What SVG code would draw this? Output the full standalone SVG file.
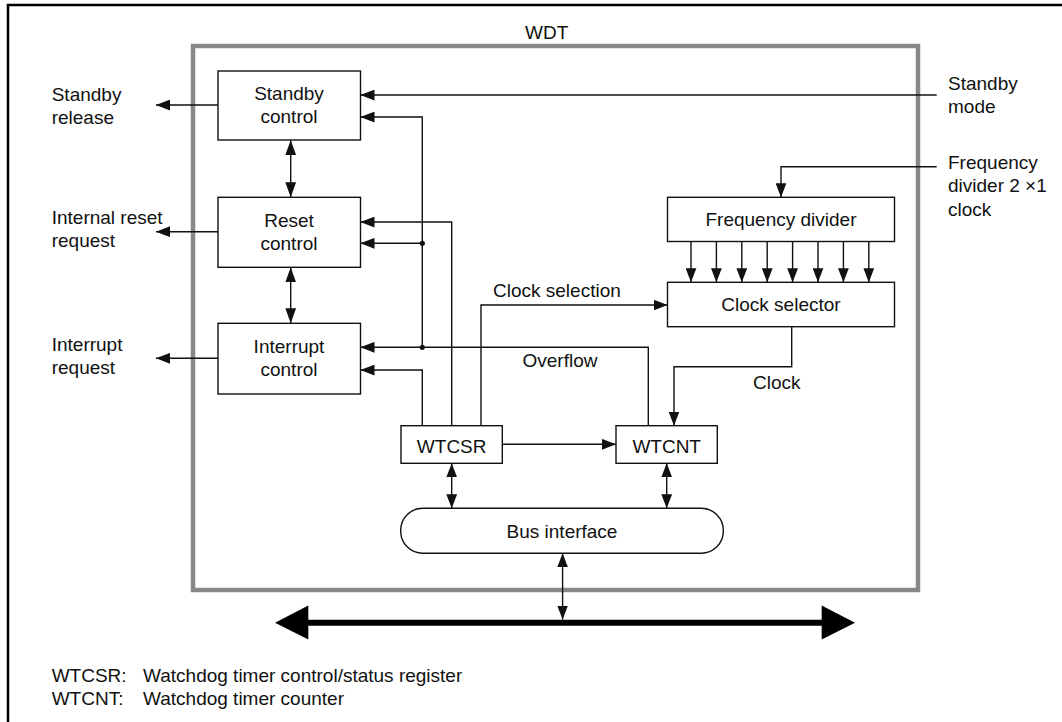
<svg xmlns="http://www.w3.org/2000/svg" width="1062" height="722" viewBox="0 0 1062 722">
<style>
text{font-family:"Liberation Sans",Arial,sans-serif;font-size:19px;fill:#111}
.c{text-anchor:middle}
.box{fill:#fff;stroke:#111;stroke-width:1.4}
.ln{fill:none;stroke:#111;stroke-width:1.4}
</style>
<defs>
<marker id="a" markerUnits="userSpaceOnUse" markerWidth="14" markerHeight="11" refX="13" refY="5" orient="auto-start-reverse" viewBox="0 0 13 10">
<path d="M0,0 L13,5 L0,10 z" fill="#111"/>
</marker>
<marker id="b" markerUnits="userSpaceOnUse" markerWidth="15" markerHeight="11" refX="14" refY="5" orient="auto-start-reverse" viewBox="0 0 14 10">
<path d="M0,0 L14,5 L0,10 z" fill="#111"/>
</marker>
</defs>
<rect x="0" y="0" width="1062" height="722" fill="#fff"/>
<rect x="8" y="5" width="1100" height="800" fill="none" stroke="#000" stroke-width="2.5"/>
<g id="wdt">
<rect x="193" y="46" width="725" height="544" fill="none" stroke="#888" stroke-width="4.5"/>
<text x="525" y="39">WDT</text>
</g>
<g id="standby-control">
<rect class="box" x="218" y="71" width="142.5" height="69"/>
<text class="c" x="289" y="100">Standby</text>
<text class="c" x="289" y="123">control</text>
</g>
<g id="reset-control">
<rect class="box" x="218" y="197.3" width="142.5" height="70"/>
<text class="c" x="289" y="226.8">Reset</text>
<text class="c" x="289" y="249.8">control</text>
</g>
<g id="interrupt-control">
<rect class="box" x="218" y="323.3" width="142.5" height="70.7"/>
<text class="c" x="289" y="353">Interrupt</text>
<text class="c" x="289" y="376">control</text>
</g>
<g id="frequency-divider">
<rect class="box" x="667.5" y="197.3" width="227" height="44.2"/>
<text class="c" x="781" y="226">Frequency divider</text>
</g>
<g id="clock-selector">
<rect class="box" x="667.5" y="282.3" width="227" height="44.4"/>
<text class="c" x="781" y="311">Clock selector</text>
</g>
<g id="wtcsr">
<rect class="box" x="401" y="425.7" width="101.3" height="37.6"/>
<text class="c" x="451.7" y="453">WTCSR</text>
</g>
<g id="wtcnt">
<rect class="box" x="616" y="425.7" width="101.3" height="37.6"/>
<text class="c" x="666.7" y="453">WTCNT</text>
</g>
<g id="bus-interface">
<rect class="box" x="400.7" y="508.3" width="322.6" height="45" rx="22" ry="22"/>
<text class="c" x="562" y="537.7">Bus interface</text>
</g>
<g id="labels">
<text x="51.7" y="100.5">Standby</text>
<text x="51.7" y="123.5">release</text>
<text x="51.7" y="224">Internal reset</text>
<text x="51.7" y="247">request</text>
<text x="51.7" y="350.7">Interrupt</text>
<text x="51.7" y="373.7">request</text>
<text x="948" y="90">Standby</text>
<text x="948" y="113">mode</text>
<text x="948" y="169">Frequency</text>
<text x="948" y="192">divider 2 ×1</text>
<text x="948" y="215.5">clock</text>
<text x="493" y="296.7">Clock selection</text>
<text x="522.5" y="366.7">Overflow</text>
<text x="753" y="389">Clock</text>
<text x="51.7" y="681.7">WTCSR:</text>
<text x="143" y="681.7">Watchdog timer control/status register</text>
<text x="51.7" y="705">WTCNT:</text>
<text x="143" y="705">Watchdog timer counter</text>
</g>
<g id="connectors">
<line class="ln" x1="218" y1="105" x2="156" y2="105" marker-end="url(#a)"/>
<line class="ln" x1="218" y1="231.7" x2="156" y2="231.7" marker-end="url(#a)"/>
<line class="ln" x1="218" y1="358.3" x2="156" y2="358.3" marker-end="url(#a)"/>
<line class="ln" x1="290.7" y1="140" x2="290.7" y2="197.3" marker-start="url(#b)" marker-end="url(#b)"/>
<line class="ln" x1="290.7" y1="267.3" x2="290.7" y2="323.3" marker-start="url(#b)" marker-end="url(#b)"/>
<line class="ln" x1="936.7" y1="95" x2="360.5" y2="95" marker-end="url(#a)"/>
<polyline class="ln" points="422.3,347.3 422.3,117 360.5,117" marker-end="url(#a)"/>
<line class="ln" x1="422.3" y1="243.3" x2="360.5" y2="243.3" marker-end="url(#a)"/>
<polyline class="ln" points="648.3,425.7 648.3,347.3 360.5,347.3" marker-end="url(#a)"/>
<circle cx="422.3" cy="243.3" r="2.6" fill="#111"/>
<circle cx="422.3" cy="347.3" r="2.6" fill="#111"/>
<polyline class="ln" points="422.3,425.7 422.3,370 360.5,370" marker-end="url(#a)"/>
<polyline class="ln" points="451.7,425.7 451.7,222 360.5,222" marker-end="url(#a)"/>
<polyline class="ln" points="481,425.7 481,305 667.5,305" marker-end="url(#a)"/>
<polyline class="ln" points="936.7,166.7 781,166.7 781,197.3" marker-end="url(#a)"/>
<line class="ln" x1="691" y1="241.5" x2="691" y2="282.3" marker-end="url(#a)"/>
<line class="ln" x1="716.4" y1="241.5" x2="716.4" y2="282.3" marker-end="url(#a)"/>
<line class="ln" x1="741.8" y1="241.5" x2="741.8" y2="282.3" marker-end="url(#a)"/>
<line class="ln" x1="767.2" y1="241.5" x2="767.2" y2="282.3" marker-end="url(#a)"/>
<line class="ln" x1="792.6" y1="241.5" x2="792.6" y2="282.3" marker-end="url(#a)"/>
<line class="ln" x1="818" y1="241.5" x2="818" y2="282.3" marker-end="url(#a)"/>
<line class="ln" x1="843.4" y1="241.5" x2="843.4" y2="282.3" marker-end="url(#a)"/>
<line class="ln" x1="868.8" y1="241.5" x2="868.8" y2="282.3" marker-end="url(#a)"/>
<polyline class="ln" points="791.7,326.7 791.7,366.7 674,366.7 674,425.7" marker-end="url(#a)"/>
<line class="ln" x1="502.3" y1="444.3" x2="616" y2="444.3" marker-end="url(#a)"/>
<line class="ln" x1="451.7" y1="463.3" x2="451.7" y2="508.3" marker-start="url(#a)" marker-end="url(#a)"/>
<line class="ln" x1="666.7" y1="463.3" x2="666.7" y2="508.3" marker-start="url(#a)" marker-end="url(#a)"/>
<line class="ln" x1="562.6" y1="553.3" x2="562.6" y2="619.5" marker-start="url(#a)" marker-end="url(#a)"/>
<line x1="305" y1="622.7" x2="825" y2="622.7" stroke="#000" stroke-width="6"/>
<path d="M275,622.7 L308.3,605.5 L308.3,639.5 z" fill="#000"/>
<path d="M855,622.7 L821.7,605.5 L821.7,639.5 z" fill="#000"/>
</g>
</svg>
